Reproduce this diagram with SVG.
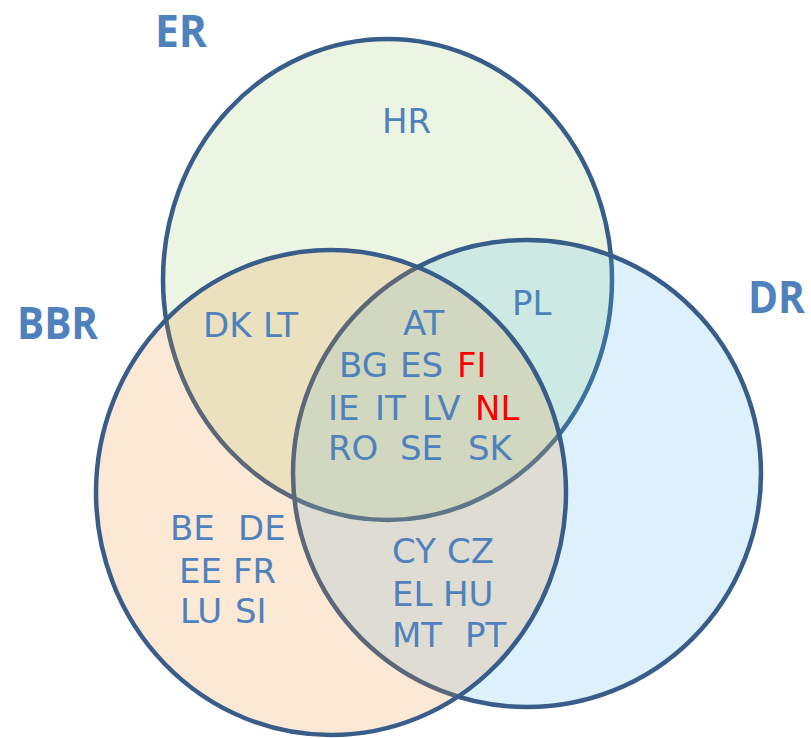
<svg xmlns="http://www.w3.org/2000/svg" width="811" height="738" viewBox="0 0 811 738">
  <style>
    .set { stroke: #385d8a; stroke-width: 4.5; fill-opacity: 0.2; }
    .lbl { font-family: "DejaVu Sans", Verdana, sans-serif; font-size: 34px; fill: #4f81bd; }
    .red { fill: #ff0000; }
    .title { font-family: "Open Sans", "Liberation Sans", sans-serif; font-weight: bold; font-size: 45px; fill: #4f81bd; }
  </style>
  <rect width="811" height="738" fill="#ffffff"/>
  <g id="set-ER">
    <ellipse class="set" cx="387.5" cy="279.5" rx="224.5" ry="240.5" fill="#a0cd6e"/>
  </g>
  <g id="set-DR">
    <ellipse class="set" cx="527" cy="473.5" rx="234" ry="233.5" fill="#50b9f0"/>
  </g>
  <g id="set-BBR">
    <ellipse class="set" cx="331" cy="492.5" rx="235" ry="242.5" fill="#ed9132"/>
  </g>
  <g id="titles">
    <text class="title" x="155" y="47" textLength="52" lengthAdjust="spacingAndGlyphs">ER</text>
    <text class="title" x="17" y="339" textLength="81" lengthAdjust="spacingAndGlyphs">BBR</text>
    <text class="title" x="748" y="313" textLength="57" lengthAdjust="spacingAndGlyphs">DR</text>
  </g>
  <g id="labels">
    <text class="lbl" x="382" y="133">HR</text>
    <text class="lbl" y="337"><tspan x="203">DK</tspan><tspan x="263">LT</tspan></text>
    <text class="lbl" x="512" y="315">PL</text>
    <text class="lbl" x="403" y="335">AT</text>
    <text class="lbl" y="377"><tspan x="339">BG</tspan><tspan x="400">ES</tspan><tspan x="457" class="red">FI</tspan></text>
    <text class="lbl" y="420"><tspan x="328">IE</tspan><tspan x="375">IT</tspan><tspan x="422">LV</tspan><tspan x="475" class="red">NL</tspan></text>
    <text class="lbl" y="460"><tspan x="328">RO</tspan><tspan x="400">SE</tspan><tspan x="468">SK</tspan></text>
    <text class="lbl" y="540"><tspan x="170">BE</tspan><tspan x="238">DE</tspan></text>
    <text class="lbl" y="583"><tspan x="179">EE</tspan><tspan x="233">FR</tspan></text>
    <text class="lbl" y="623"><tspan x="180">LU</tspan><tspan x="235">SI</tspan></text>
    <text class="lbl" y="563"><tspan x="392">CY</tspan><tspan x="447">CZ</tspan></text>
    <text class="lbl" y="606"><tspan x="392">EL</tspan><tspan x="443">HU</tspan></text>
    <text class="lbl" y="647"><tspan x="392">MT</tspan><tspan x="465">PT</tspan></text>
  </g>
</svg>
